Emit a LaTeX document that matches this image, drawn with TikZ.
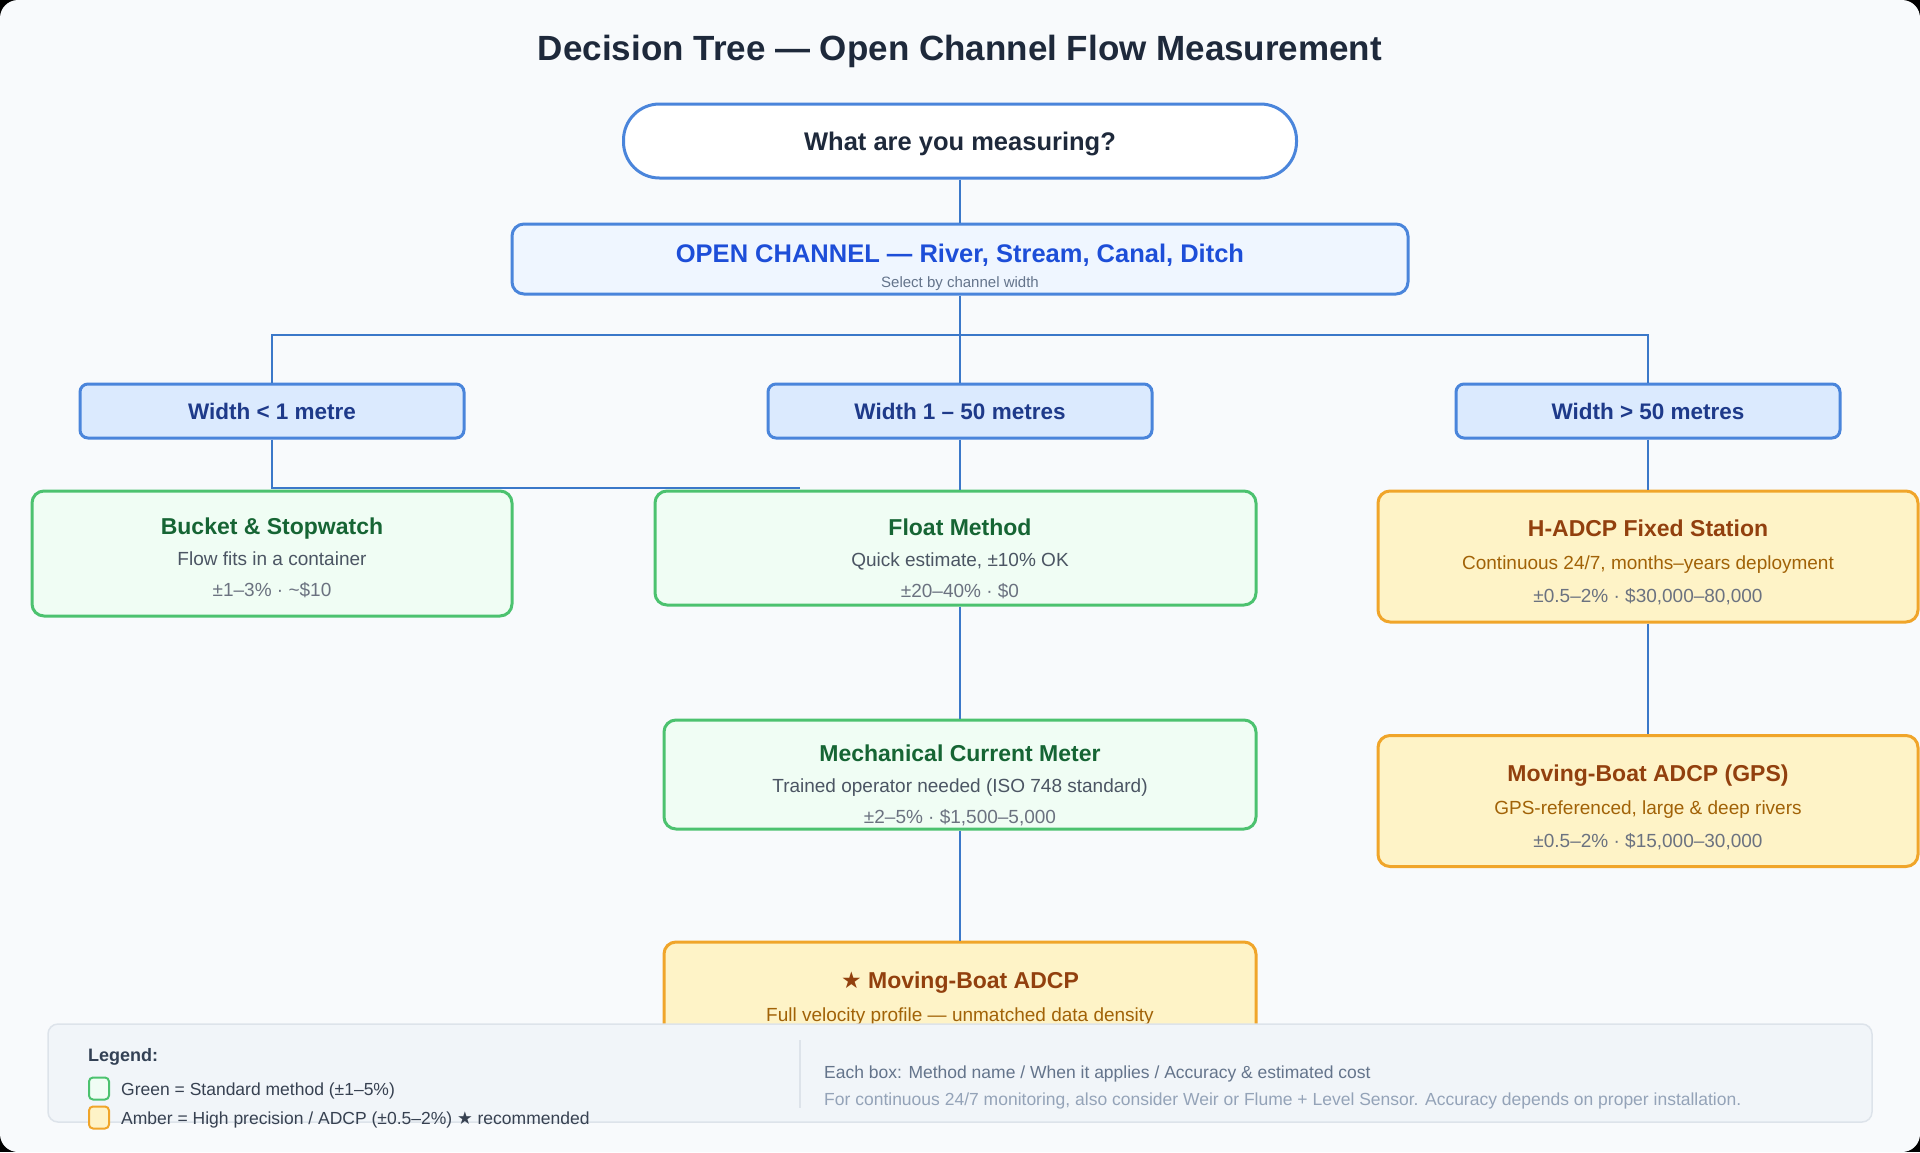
\documentclass[tikz,border=0pt]{standalone}
\usepackage{fontspec}
\setmainfont{Liberation Sans}
\newfontfamily\starfont{DejaVu Sans}
\usepackage{tikz}
\usetikzlibrary{positioning}
\usepackage{xcolor}

\definecolor{bgc}{HTML}{F8FAFC}
\definecolor{titlec}{HTML}{1E293B}
\definecolor{bline}{HTML}{4A85DB}
\definecolor{linkc}{HTML}{3B78C9}
\definecolor{chfill}{HTML}{EFF6FF}
\definecolor{chhead}{HTML}{1D4ED8}
\definecolor{chsub}{HTML}{64748B}
\definecolor{wfill}{HTML}{DBEAFE}
\definecolor{wtext}{HTML}{1E3A8A}
\definecolor{gfill}{HTML}{F0FDF4}
\definecolor{gline}{HTML}{4CC26F}
\definecolor{ghead}{HTML}{166534}
\definecolor{gsub}{HTML}{4B5563}
\definecolor{afill}{HTML}{FEF3C7}
\definecolor{aline}{HTML}{F0A52A}
\definecolor{ahead}{HTML}{92400E}
\definecolor{asub}{HTML}{A16207}
\definecolor{costgray}{HTML}{6B7280}
\definecolor{legfill}{HTML}{F1F5F9}
\definecolor{legline}{HTML}{DDE3EA}
\definecolor{leghead}{HTML}{334155}
\definecolor{legtext}{HTML}{374151}
\definecolor{noteone}{HTML}{64748B}
\definecolor{notetwo}{HTML}{94A3B8}

\newcommand{\gtitle}[1]{{\color{ghead}\fontsize{23}{31}\selectfont\bfseries #1}}
\newcommand{\atitle}[1]{{\color{ahead}\fontsize{23}{33}\selectfont\bfseries #1}}
\newcommand{\cost}[1]{{\color{costgray}#1}}

\begin{document}
\begin{tikzpicture}[x=1pt,y=-1pt,
  box/.style={draw,line width=3pt,rounded corners=12pt,inner sep=0pt,align=center},
  gbox/.style={box,draw=gline,fill=gfill},
  abox/.style={box,draw=aline,fill=afill},
  gtext/.style={anchor=north,inner sep=0pt,align=center,text=gsub,font=\fontsize{19}{31}\selectfont},
  atext/.style={gtext,text=asub,font=\fontsize{19}{33}\selectfont},
  wbox/.style={box,draw=bline,fill=wfill,text=wtext,rounded corners=8pt,minimum width=384,minimum height=54,font=\fontsize{22.5}{27}\selectfont\bfseries},
  link/.style={draw=linkc,line width=2.5pt},
  swatch/.style={line width=2pt,rounded corners=4pt,minimum width=20,minimum height=22,inner sep=0pt},
  legtxt/.style={anchor=west,inner sep=0pt,font=\fontsize{17.5}{20}\selectfont}]
\useasboundingbox (0,0) rectangle (1920,1152);
\fill[black] (0,0) rectangle (1920,1152);
\fill[bgc,rounded corners=18pt] (0,0) rectangle (1920,1152);

\node[text=titlec,font=\fontsize{35}{40}\selectfont\bfseries] (title) at (960,51.5) {Decision Tree — Open Channel Flow Measurement};

% question and channel type
\node[box,draw=bline,fill=white,rounded corners=36pt,minimum width=673,minimum height=74,text=titlec,text depth=0pt,font=\fontsize{25.5}{30}\selectfont\bfseries] (root) at (960,141) {What are you measuring?};
\node[box,draw=bline,fill=chfill,minimum width=896,minimum height=70] (chan) at (960,259) {};
\node[gtext,text=chsub,font=\fontsize{15}{24.5}\selectfont] (chanT) at (960,244) {{\color{chhead}\fontsize{25.5}{24.5}\selectfont\bfseries OPEN CHANNEL — River, Stream, Canal, Ditch}\\Select by channel width};

% width classes
\node[wbox] (w1) at (272,411) {Width < 1 metre};
\node[wbox] (w2) at (960,411) {Width 1 – 50 metres};
\node[wbox] (w3) at (1648,411) {Width > 50 metres};

% methods, green
\node[gbox,minimum width=480,minimum height=125] (bucket) at (272,553.5) {};
\node[gtext] (bucketT) at (272,517.5) {\gtitle{Bucket \& Stopwatch}\\Flow fits in a container\\\cost{±1–3\% · \textasciitilde\$10}};
\node[gbox,minimum width=601,minimum height=114] (float) at (955.5,548) {};
\node[gtext] (floatT) at (960,518.5) {\gtitle{Float Method}\\Quick estimate, ±10\% OK\\\cost{±20–40\% · \$0}};
\node[gbox,minimum width=592,minimum height=109] (mech) at (960,774.5) {};
\node[gtext] (mechT) at (960,744.5) {\gtitle{Mechanical Current Meter}\\Trained operator needed (ISO 748 standard)\\\cost{±2–5\% · \$1,500–5,000}};

% methods, amber
\node[abox,minimum width=540,minimum height=131] (hadcp) at (1648,556.5) {};
\node[atext] (hadcpT) at (1648,519.5) {\atitle{H-ADCP Fixed Station}\\Continuous 24/7, months–years deployment\\\cost{±0.5–2\% · \$30,000–80,000}};
\node[abox,minimum width=540,minimum height=131] (gps) at (1648,801) {};
\node[atext] (gpsT) at (1648,764.5) {\atitle{Moving-Boat ADCP (GPS)}\\GPS-referenced, large \& deep rivers\\\cost{±0.5–2\% · \$15,000–30,000}};
\node[abox,minimum width=592,minimum height=131] (star) at (960,1007.5) {};
\node[atext] (starT) at (960,971.5) {\atitle{{\starfont ★} Moving-Boat ADCP}\\Full velocity profile — unmatched data density};

% connectors
\coordinate (fork) at (960,335);
\coordinate (stub) at (800,488);
\draw[link] (root) -- (chan);
\draw[link] (chan) -- (fork);
\draw[link] (fork) -- (w2);
\draw[link] (w1.north) |- (fork);
\draw[link] (w3.north) |- (fork);
\draw[link] (w1.south) |- (stub);
\draw[link] (w2.south) -- (w2.south |- float.north);
\draw[link] (mech.north |- float.south) -- (mech);
\draw[link] (mech) -- (star);
\draw[link] (w3) -- (hadcp);
\draw[link] (hadcp) -- (gps);

% legend
\node[draw=legline,fill=legfill,line width=1.5pt,rounded corners=10pt,minimum width=1824,minimum height=98,inner sep=0pt] (legend) at (960,1073) {};
\draw[legline,line width=1.5pt] (800,1040) -- (800,1108);
\node[legtxt,text=leghead,font=\fontsize{18}{20}\selectfont\bfseries] (legtitle) at (88,1057) {Legend:};
\node[swatch,draw=gline,fill=gfill] (swgreen) at (99,1088.5) {};
\node[swatch,draw=aline,fill=afill] (swamber) at (99,1117.5) {};
\node[legtxt,text=legtext] (lgreen) at (121,1091) {Green = Standard method (±1–5\%)};
\node[legtxt,text=legtext] (lamber) at (121,1119.5) {Amber = High precision / ADCP (±0.5–2\%) {\starfont ★} recommended};
\node[legtxt,text=noteone] (note1) at (824,1074) {Each box: Method name / When it applies / Accuracy \& estimated cost};
\node[legtxt,text=notetwo] (note2) at (824,1101) {For continuous 24/7 monitoring, also consider Weir or Flume + Level Sensor. Accuracy depends on proper installation.};
\end{tikzpicture}
\end{document}
